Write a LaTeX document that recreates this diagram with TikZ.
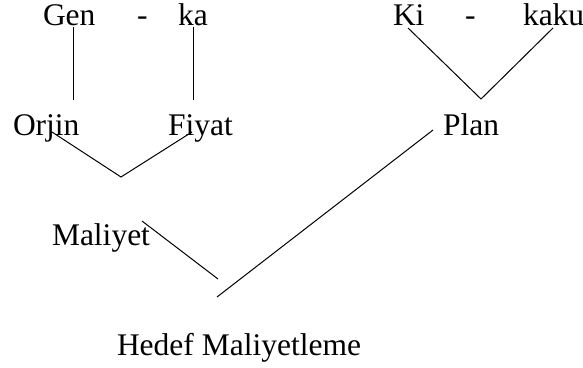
\documentclass[tikz,border=0pt]{standalone}
\usepackage{fontspec}
\setmainfont{Liberation Serif}
\begin{document}
\begin{tikzpicture}[x=1pt,y=-1pt,
  word/.style={anchor=base west,inner sep=0pt,outer sep=0pt,
    font=\fontsize{31.5}{36}\selectfont},
  link/.style={draw=black,line width=1pt}]
\useasboundingbox (0,0) rectangle (583,367);
% top syllables
\node[word] (gen)  at (43,25)  {Gen};
\node[word] (d1)   at (137,25) {-};
\node[word] (ka)   at (178,25) {ka};
\node[word] (ki)   at (393,25) {Ki};
\node[word] (d2)   at (465,25) {-};
\node[word] (kaku) at (523,25) {kaku};
% meanings
\node[word] (orjin) at (13,135)  {Orjin};
\node[word] (fiyat) at (168,135) {Fiyat};
\node[word] (plan)  at (443,135) {Plan};
\node[word] (maliyet) at (52,245) {Maliyet};
\node[word] (hedef) at (117,355) {Hedef Maliyetleme};
% junction points
\coordinate (genTop) at (73,27);   \coordinate (genBot) at (73,100);
\coordinate (kaTop)  at (193,27);  \coordinate (kaBot)  at (193,100);
\coordinate (ofL) at (52,132);  \coordinate (ofV) at (121,177); \coordinate (ofR) at (192,132);
\coordinate (kkL) at (408,28);  \coordinate (kkV) at (481,99);  \coordinate (kkR) at (553,28);
\coordinate (plTop) at (433,130); \coordinate (plBot) at (217,297);
\coordinate (maTop) at (142,221); \coordinate (maBot) at (218,279);
% connectors
\draw[link] (genTop) -- (genBot);
\draw[link] (kaTop) -- (kaBot);
\draw[link] (ofL) -- (ofV) -- (ofR);
\draw[link] (kkL) -- (kkV) -- (kkR);
\draw[link] (plTop) -- (plBot);
\draw[link] (maTop) -- (maBot);
\end{tikzpicture}
\end{document}
